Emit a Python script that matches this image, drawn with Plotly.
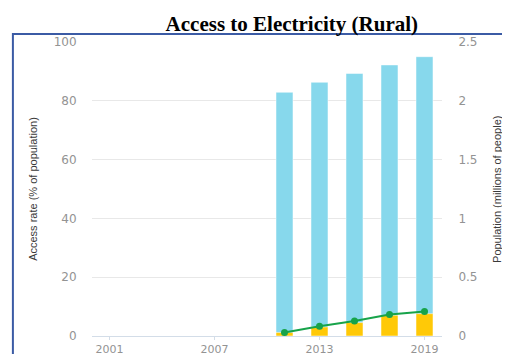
"""
Rural electricity access chart
Access rate bars (left axis) with population bars and line (right axis)
"""

import plotly.graph_objects as go

years = [2011, 2013, 2015, 2017, 2019]
access_rate = [82.9, 86.3, 89.3, 92.2, 95.0]
pop_bars = [0.03, 0.077, 0.114, 0.176, 0.19]
pop_line = [0.03, 0.083, 0.128, 0.182, 0.208]
x_ticks = [2001, 2007, 2013, 2019]

tick_font = dict(family="DejaVu Sans", size=12, color="#939393")
label_font = dict(family="Liberation Sans", size=11, color="#3a3a3a")

# the page puts the figure 8px in from the top-left corner
W, H = 502, 346

fig = go.Figure()

fig.add_trace(go.Bar(
    x=years,
    y=access_rate,
    width=0.97,
    marker=dict(color="#87d8ec", line=dict(color="#ffffff", width=0.5)),
    yaxis="y",
    showlegend=False
))

fig.add_trace(go.Bar(
    x=years,
    y=pop_bars,
    width=0.97,
    marker=dict(color="#ffc907", line=dict(color="#ffffff", width=0.5)),
    yaxis="y2",
    showlegend=False
))

fig.add_trace(go.Scatter(
    x=years,
    y=pop_line,
    mode="lines+markers",
    line=dict(color="#17a34a", width=2),
    marker=dict(color="#17a34a", size=7),
    yaxis="y2",
    showlegend=False
))

fig.update_layout(
    width=W,
    height=H,
    margin=dict(l=84, r=68, t=34, b=18),
    paper_bgcolor="white",
    plot_bgcolor="white",
    barmode="overlay",
    title=dict(
        text="<b>Access to Electricity (Rural)</b>",
        font=dict(family="Liberation Serif", size=21, color="black"),
        x=0.571, xref="paper", xanchor="center",
        y=1 - 16 / H, yref="container", yanchor="middle"
    ),
    xaxis=dict(
        range=[2000, 2020],
        tickvals=x_ticks,
        ticks="outside", ticklen=3, tickcolor="#d3dde8",
        showline=True, linecolor="#d3dde8", linewidth=1,
        showgrid=False, zeroline=False, automargin=False,
        tickfont=dict(family="DejaVu Sans", size=11, color="#939393")
    ),
    yaxis=dict(
        range=[0, 100],
        tickvals=[0, 20, 40, 60, 80, 100],
        ticks="outside", ticklen=12, tickcolor="rgba(0,0,0,0)",
        gridcolor="#e8e8e8", gridwidth=1, zeroline=False, automargin=False,
        tickfont=tick_font
    ),
    yaxis2=dict(
        range=[0, 2.5],
        tickvals=[0, 0.5, 1, 1.5, 2, 2.5],
        overlaying="y", side="right",
        ticks="outside", ticklen=13, tickcolor="rgba(0,0,0,0)",
        showgrid=False, zeroline=False, automargin=False,
        tickfont=tick_font
    ),
    annotations=[
        dict(text="Access rate (% of population)", textangle=-90,
             x=-0.169, y=0.5, xref="paper", yref="paper",
             xanchor="center", yanchor="middle",
             showarrow=False, font=label_font),
        dict(text="Population (millions of people)", textangle=-90,
             x=1.157, y=0.5, xref="paper", yref="paper",
             xanchor="center", yanchor="middle",
             showarrow=False, font=label_font),
    ],
    shapes=[
        dict(type="rect", xref="paper", yref="paper",
             x0=-0.226, x1=1.3, y0=-0.3, y1=1.027,
             line=dict(color="#3b5ba5", width=2), fillcolor="rgba(0,0,0,0)",
             layer="above")
    ]
)

fig.write_html("out.html")
